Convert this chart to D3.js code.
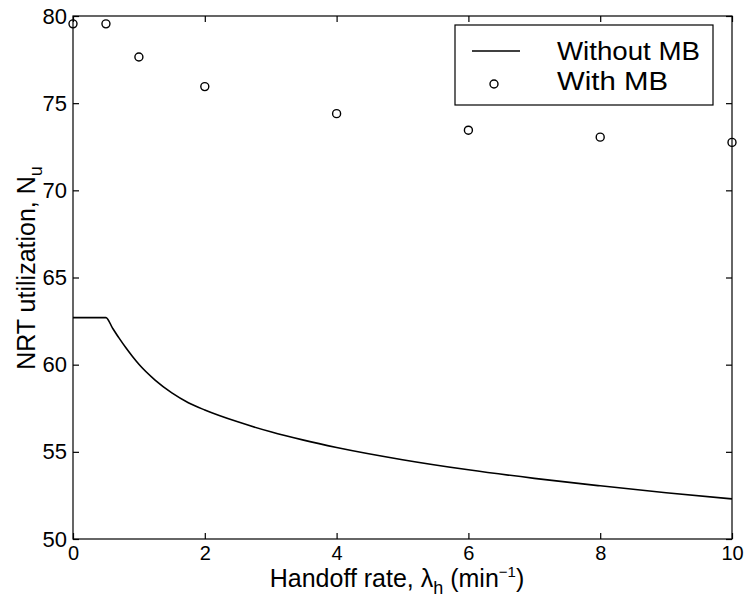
<!DOCTYPE html>
<html>
<head>
<meta charset="utf-8">
<script src="https://cdn.jsdelivr.net/npm/d3@7"></script>
<style>
  html, body { margin: 0; padding: 0; background: #fff; }
  svg { display: block; }
  text { font-family: "Liberation Sans", Arial, Helvetica, sans-serif; fill: #000; }
</style>
</head>
<body>
<svg id="chart" width="751" height="603"></svg>
<script>
// Handoff rate (min^-1) and NRT utilization without movement-based scheme
const lineX = [0, 0.5, 0.6, 0.7, 0.8, 0.9, 1.0, 1.25, 1.5, 1.75, 2, 2.5, 3, 3.5, 4, 5, 6, 7, 8, 9, 10];
const lineY = [62.7, 62.7, 62.1, 61.52, 60.98, 60.48, 60.02, 59.1, 58.38, 57.82, 57.4, 56.72, 56.15, 55.67, 55.25, 54.55, 53.97, 53.48, 53.05, 52.65, 52.3];

// Utilization with movement-based scheme
const pointX = [0, 0.5, 1, 2, 4, 6, 8, 10];
const pointY = [79.55, 79.55, 77.65, 75.95, 74.4, 73.45, 73.05, 72.75];

const xTicks = [0, 2, 4, 6, 8, 10];
const yTicks = [50, 55, 60, 65, 70, 75, 80];
const legendLabels = ["Without MB", "With MB"];

const svg = d3.select("#chart");
const L = 73, R = 732, T = 16, B = 539;

const x = d3.scaleLinear().domain([0, 10]).range([L, R]);
const y = d3.scaleLinear().domain([50, 80]).range([B, T]);

// Frame
svg.append("rect")
  .attr("x", L).attr("y", T).attr("width", R - L).attr("height", B - T)
  .attr("fill", "none").attr("stroke", "#000").attr("stroke-width", 1.2);

// Axes with inward ticks on all four sides
const tickLen = 6;
svg.append("g").attr("transform", `translate(0,${B})`)
  .call(d3.axisBottom(x).tickValues(xTicks).tickSizeInner(-tickLen).tickSizeOuter(0).tickPadding(7).tickFormat(d3.format("d")))
  .call(g => g.select(".domain").remove())
  .call(g => g.selectAll("text").attr("font-size", 20).attr("dy", "0.71em"));
svg.append("g").attr("transform", `translate(0,${T})`)
  .call(d3.axisTop(x).tickValues(xTicks).tickSizeInner(-tickLen).tickSizeOuter(0).tickFormat(""))
  .call(g => g.select(".domain").remove());
svg.append("g").attr("transform", `translate(${L},0)`)
  .call(d3.axisLeft(y).tickValues(yTicks).tickSizeInner(-tickLen).tickSizeOuter(0).tickPadding(6).tickFormat(d3.format("d")))
  .call(g => g.select(".domain").remove())
  .call(g => g.selectAll("text").attr("font-size", 22));
svg.append("g").attr("transform", `translate(${R},0)`)
  .call(d3.axisRight(y).tickValues(yTicks).tickSizeInner(-tickLen).tickSizeOuter(0).tickFormat(""))
  .call(g => g.select(".domain").remove());
svg.selectAll(".tick line").attr("stroke", "#000").attr("stroke-width", 1.2);

// Curve without MB
const line = d3.line().x(d => x(d[0])).y(d => y(d[1])).curve(d3.curveMonotoneX);
svg.append("path")
  .datum(lineX.map((v, i) => [v, lineY[i]]))
  .attr("d", line).attr("fill", "none").attr("stroke", "#000").attr("stroke-width", 1.6);

// Points with MB
svg.append("g").selectAll("circle")
  .data(pointX.map((v, i) => [v, pointY[i]]))
  .join("circle")
  .attr("cx", d => x(d[0])).attr("cy", d => y(d[1])).attr("r", 4)
  .attr("fill", "none").attr("stroke", "#000").attr("stroke-width", 1.4);

// Legend
const legendWidths = [143, 111];
const lg = svg.append("g");
lg.append("rect").attr("x", 455).attr("y", 25).attr("width", 258).attr("height", 80)
  .attr("fill", "#fff").attr("stroke", "#000").attr("stroke-width", 1.2);
lg.append("line").attr("x1", 472).attr("x2", 520).attr("y1", 51).attr("y2", 51)
  .attr("stroke", "#000").attr("stroke-width", 1.6);
lg.append("circle").attr("cx", 494).attr("cy", 84).attr("r", 4)
  .attr("fill", "none").attr("stroke", "#000").attr("stroke-width", 1.4);
lg.selectAll("text.lbl").data(legendLabels).join("text").attr("class", "lbl")
  .attr("x", 557).attr("y", (d, i) => 60 + i * 30).attr("font-size", 26)
  .attr("textLength", (d, i) => legendWidths[i])
  .attr("lengthAdjust", "spacingAndGlyphs")
  .text(d => d);

// X-axis title
const xt = svg.append("text").attr("x", 397).attr("y", 587).attr("text-anchor", "middle").attr("font-size", 25);
xt.append("tspan").text("Handoff rate, λ");
xt.append("tspan").attr("font-size", 18).attr("dy", 7).text("h");
xt.append("tspan").attr("dy", -7).text(" (min");
xt.append("tspan").attr("font-size", 15).attr("dy", -10).text("−1");
xt.append("tspan").attr("dy", 10).text(")");

// Y-axis title
const yt = svg.append("text").attr("transform", "translate(35,268) rotate(-90)")
  .attr("text-anchor", "middle").attr("font-size", 25);
yt.append("tspan").text("NRT utilization, N");
yt.append("tspan").attr("font-size", 18).attr("dy", 7).text("u");
</script>
</body>
</html>
